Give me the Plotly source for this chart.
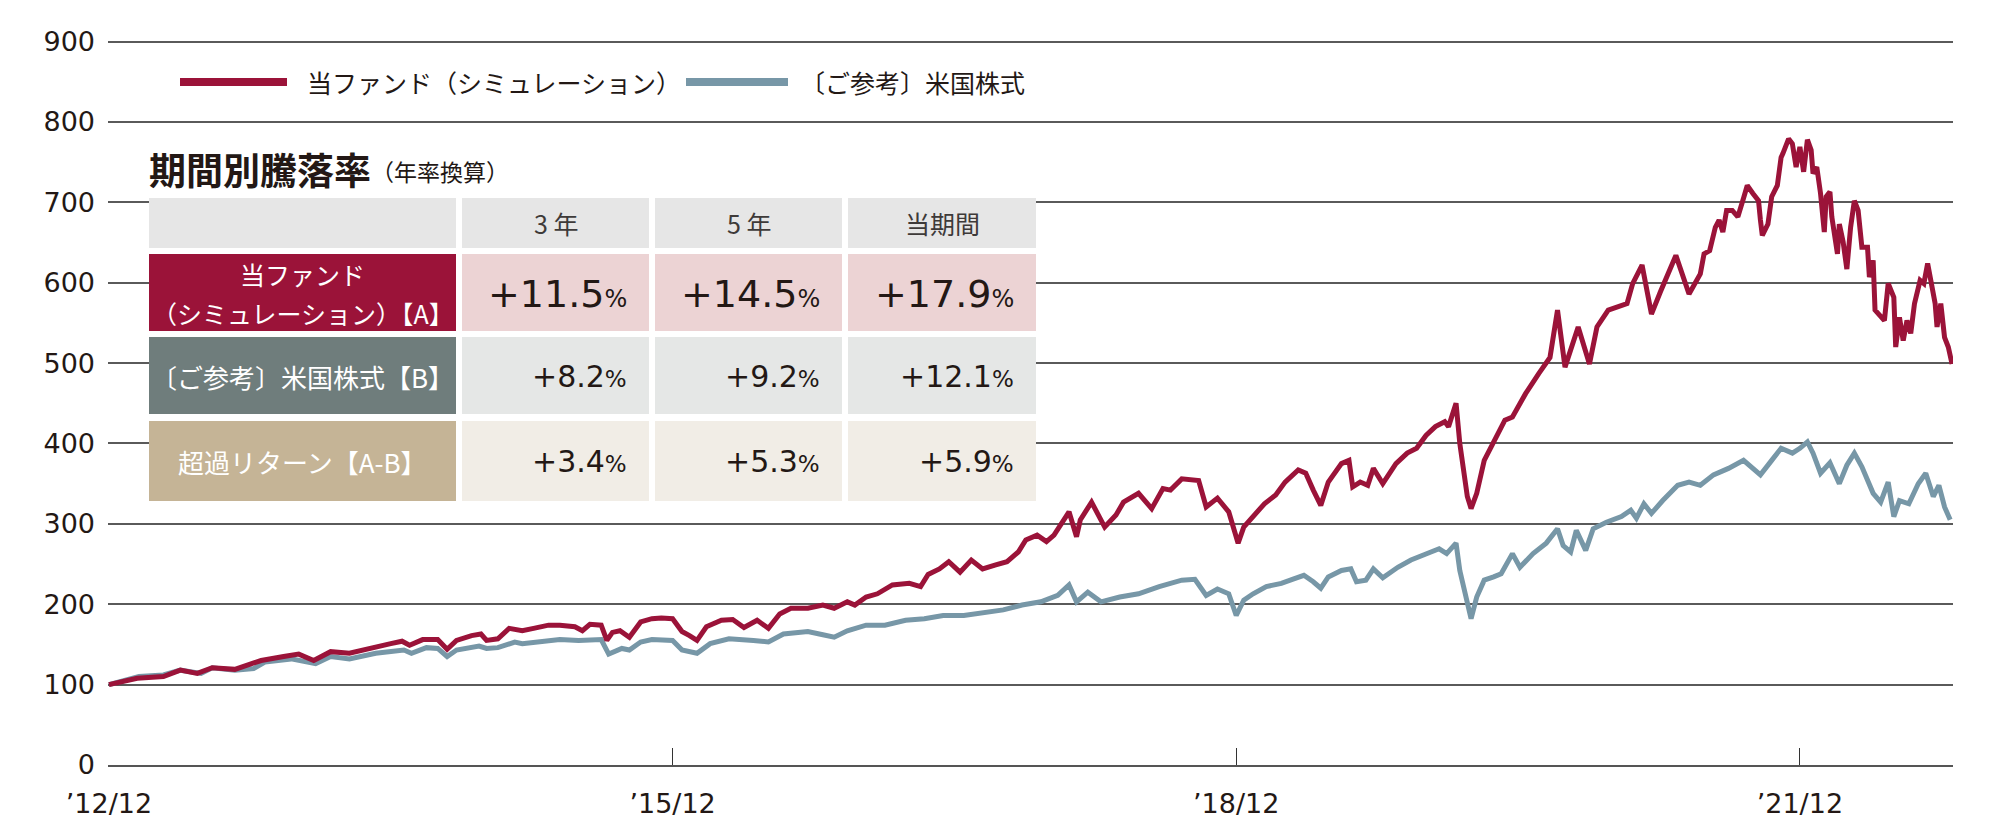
import plotly.graph_objects as go

# ---- data (x = decimal year, 2013.00 = end of Dec 2012) ----
fund_x = [
    2013.00, 2013.15, 2013.29, 2013.38, 2013.47, 2013.55, 2013.67, 2013.81, 2013.93, 2014.01,
    2014.09, 2014.18, 2014.28, 2014.38, 2014.50, 2014.56, 2014.60, 2014.67, 2014.75, 2014.80,
    2014.85, 2014.93, 2014.98, 2015.01, 2015.07, 2015.13, 2015.20, 2015.26, 2015.34, 2015.40,
    2015.48, 2015.52, 2015.56, 2015.62, 2015.65, 2015.68, 2015.72, 2015.77, 2015.83, 2015.89,
    2015.94, 2016.00, 2016.05, 2016.09, 2016.13, 2016.18, 2016.26, 2016.32, 2016.38, 2016.45,
    2016.51, 2016.57, 2016.63, 2016.72, 2016.80, 2016.86, 2016.93, 2016.97, 2017.03, 2017.09,
    2017.17, 2017.26, 2017.32, 2017.36, 2017.42, 2017.47, 2017.53, 2017.59, 2017.65, 2017.72,
    2017.78, 2017.84, 2017.88, 2017.94, 2017.99, 2018.03, 2018.07, 2018.11, 2018.15, 2018.17,
    2018.23, 2018.30, 2018.36, 2018.40, 2018.48, 2018.55, 2018.61, 2018.65, 2018.71, 2018.80,
    2018.84, 2018.90, 2018.96, 2018.99, 2019.01, 2019.04, 2019.09, 2019.15, 2019.21, 2019.26,
    2019.33, 2019.37, 2019.41, 2019.45, 2019.49, 2019.56, 2019.60, 2019.62, 2019.66, 2019.70,
    2019.73, 2019.78, 2019.85, 2019.91, 2019.96, 2020.01, 2020.06, 2020.11, 2020.13, 2020.17,
    2020.19, 2020.23, 2020.25, 2020.28, 2020.32, 2020.38, 2020.43, 2020.47, 2020.54, 2020.61,
    2020.67, 2020.71, 2020.75, 2020.82, 2020.88, 2020.92, 2020.98, 2021.08, 2021.11, 2021.16,
    2021.21, 2021.26, 2021.34, 2021.41, 2021.47, 2021.49, 2021.52, 2021.55, 2021.57, 2021.59,
    2021.61, 2021.64, 2021.67, 2021.70, 2021.72, 2021.75, 2021.78, 2021.79, 2021.80, 2021.83,
    2021.85, 2021.88, 2021.90, 2021.91, 2021.94, 2021.96, 2021.98, 2022.00, 2022.02, 2022.04,
    2022.06, 2022.07, 2022.09, 2022.11, 2022.13, 2022.14, 2022.16, 2022.17, 2022.20, 2022.21,
    2022.23, 2022.25, 2022.27, 2022.29, 2022.31, 2022.33, 2022.36, 2022.37, 2022.39, 2022.40,
    2022.43, 2022.45, 2022.47, 2022.50, 2022.51, 2022.53, 2022.55, 2022.57, 2022.59, 2022.61,
    2022.64, 2022.66, 2022.68, 2022.70, 2022.72, 2022.73, 2022.75, 2022.77, 2022.79, 2022.81,
]
fund_y = [
    100, 108, 110, 118, 114, 121, 119, 130, 135, 138,
    130, 141, 139, 145, 151, 154, 149, 156, 156, 144,
    155, 161, 163, 155, 157, 170, 167, 170, 174, 174,
    172, 167, 175, 174, 155, 165, 167, 159, 178, 182,
    183, 182, 166, 161, 155, 172, 180, 181, 171, 180,
    170, 188, 195, 195, 199, 195, 203, 199, 209, 213,
    224, 226, 222, 237, 244, 253, 240, 255, 244, 249,
    253, 265, 280, 286, 278, 286, 302, 315, 284, 305,
    327, 296, 311, 327, 338, 319, 344, 342, 356, 354,
    321, 332, 315, 290, 276, 296, 309, 325, 336, 352,
    367, 363, 342, 323, 352, 375, 379, 346, 352, 348,
    369, 350, 375, 388, 394, 410, 421, 427, 421, 450,
    400, 334, 319, 338, 379, 408, 429, 433, 462, 487,
    507, 566, 495, 545, 499, 545, 566, 574, 599, 622,
    561, 590, 634, 586, 611, 636, 640, 669, 678, 663,
    690, 690, 682, 705, 721, 711, 702, 678, 659, 673,
    707, 721, 756, 761, 779, 773, 744, 769, 738, 778,
    765, 736, 744, 711, 663, 707, 713, 682, 636, 673,
    651, 617, 669, 702, 690, 644, 644, 607, 628, 566,
    557, 553, 599, 582, 520, 557, 528, 553, 537, 574,
    603, 599, 624, 599, 574, 545, 574, 532, 520, 499,
]

us_x = [
    2013.00, 2013.16, 2013.29, 2013.38, 2013.49, 2013.55, 2013.67, 2013.77, 2013.83, 2013.97,
    2014.10, 2014.18, 2014.28, 2014.42, 2014.57, 2014.61, 2014.69, 2014.75, 2014.80, 2014.85,
    2014.97, 2015.01, 2015.07, 2015.16, 2015.20, 2015.30, 2015.40, 2015.50, 2015.56, 2015.62,
    2015.66, 2015.73, 2015.77, 2015.83, 2015.89, 2015.95, 2016.00, 2016.05, 2016.13, 2016.20,
    2016.30, 2016.43, 2016.51, 2016.59, 2016.72, 2016.80, 2016.86, 2016.93, 2017.03, 2017.13,
    2017.24, 2017.34, 2017.44, 2017.55, 2017.65, 2017.76, 2017.86, 2017.96, 2018.05, 2018.11,
    2018.15, 2018.21, 2018.28, 2018.38, 2018.48, 2018.59, 2018.71, 2018.78, 2018.84, 2018.90,
    2018.96, 2019.00, 2019.04, 2019.09, 2019.16, 2019.24, 2019.31, 2019.36, 2019.41, 2019.45,
    2019.49, 2019.56, 2019.61, 2019.64, 2019.69, 2019.73, 2019.78, 2019.86, 2019.93, 2020.01,
    2020.08, 2020.12, 2020.17, 2020.19, 2020.22, 2020.25, 2020.28, 2020.32, 2020.37, 2020.41,
    2020.47, 2020.51, 2020.58, 2020.65, 2020.71, 2020.74, 2020.78, 2020.81, 2020.86, 2020.90,
    2020.97, 2021.05, 2021.10, 2021.13, 2021.17, 2021.21, 2021.27, 2021.35, 2021.41, 2021.47,
    2021.54, 2021.62, 2021.70, 2021.79, 2021.85, 2021.90, 2021.96, 2022.00, 2022.04, 2022.07,
    2022.11, 2022.16, 2022.21, 2022.25, 2022.29, 2022.33, 2022.39, 2022.43, 2022.47, 2022.50,
    2022.53, 2022.58, 2022.63, 2022.67, 2022.71, 2022.74, 2022.77, 2022.80,
]
us_y = [
    100, 110, 112, 118, 114, 121, 118, 120, 128, 132,
    126, 135, 132, 139, 143, 139, 146, 145, 135, 143,
    148, 145, 146, 153, 151, 153, 156, 155, 155, 156,
    138, 145, 143, 153, 156, 155, 155, 143, 139, 151,
    157, 155, 153, 163, 166, 162, 159, 167, 174, 174,
    180, 182, 186, 186, 189, 193, 199, 203, 211, 224,
    203, 215, 203, 209, 213, 222, 230, 231, 211, 219,
    213, 186, 205, 213, 222, 226, 232, 236, 228, 220,
    234, 242, 244, 228, 230, 244, 233, 246, 255, 263,
    269, 263, 276, 242, 213, 182, 209, 230, 234, 238,
    263, 246, 263, 276, 294, 273, 265, 292, 267, 294,
    302, 309, 317, 307, 325, 313, 329, 348, 352, 348,
    361, 369, 379, 361, 379, 394, 388, 394, 402, 388,
    363, 376, 350, 373, 388, 371, 338, 327, 352, 309,
    329, 325, 350, 363, 334, 348, 321, 305,
]

tick_vals = [2013.0, 2016.0, 2019.0, 2022.0]
tick_text = ["’12/12", "’15/12", "’18/12", "’21/12"]

series_names = ["当ファンド（シミュレーション）", "〔ご参考〕米国株式"]

table_header = ["3 年", "5 年", "当期間"]
row_labels = [["当ファンド", "（シミュレーション）【A】"], ["〔ご参考〕米国株式【B】"], ["超過リターン【A-B】"]]
row_values = [
    ["+11.5", "+14.5", "+17.9"],
    ["+8.2", "+9.2", "+12.1"],
    ["+3.4", "+5.3", "+5.9"],
]

# ---- styling ----
RED = "#9b1339"
BLUE = "#7797a7"
INK = "#231815"
JP = "Noto Sans CJK JP"
NUM = "DejaVu Sans"

label_bg = [RED, "#6f7d7c", "#c5b496"]
value_bg = ["#ecd3d4", "#e5e7e6", "#f1ede6"]
header_bg = "#e6e6e6"

# the page body keeps its default 8px margin, so the figure is a little smaller than the window
OFF = 8
W, H = 1976, 816
ML, MR, MT, MB = 100, 31, 32, 59
PW = W - ML - MR
PH = H - MT - MB


def px(x):
    # page pixel -> paper fraction
    return (x - OFF - ML) / PW


def py(y):
    return (H - MB - (y - OFF)) / PH


fig = go.Figure()

fig.add_trace(go.Scatter(x=us_x, y=us_y, mode="lines", name=series_names[1],
                         line=dict(color=BLUE, width=5), showlegend=False))
fig.add_trace(go.Scatter(x=fund_x, y=fund_y, mode="lines", name=series_names[0],
                         line=dict(color=RED, width=5), showlegend=False))

shapes = []
annotations = []

# legend
for (x0, x1, tx), color, name in zip([(180, 287, 305), (686, 788, 798)], [RED, BLUE], series_names):
    shapes.append(dict(type="line", xref="paper", yref="paper", x0=px(x0), x1=px(x1),
                       y0=py(82), y1=py(82), line=dict(color=color, width=8), layer="above"))
    annotations.append(dict(xref="paper", yref="paper", x=px(tx), y=py(82), text=name,
                            xanchor="left", yanchor="middle", showarrow=False,
                            font=dict(family=JP, size=25, color=INK)))

# table title
annotations.append(dict(xref="paper", yref="paper", x=px(147), y=py(169), text="<b>期間別騰落率</b>",
                        xanchor="left", yanchor="middle", showarrow=False,
                        font=dict(family=JP, size=37, color=INK)))
annotations.append(dict(xref="paper", yref="paper", x=px(369), y=py(171), text="（年率換算）",
                        xanchor="left", yanchor="middle", showarrow=False,
                        font=dict(family=JP, size=23, color=INK)))

cols = [(149, 456), (462, 649), (655, 842), (848, 1036)]
rows = [(198, 248), (254, 331), (337, 414), (421, 501)]

# white backing so gridlines do not show through the gaps
shapes.append(dict(type="rect", xref="paper", yref="paper", x0=px(cols[0][0]), x1=px(cols[-1][1]),
                   y0=py(rows[-1][1]), y1=py(rows[0][0]), fillcolor="white", line_width=0, layer="above"))


def cell(c, r, color):
    shapes.append(dict(type="rect", xref="paper", yref="paper",
                       x0=px(cols[c][0]), x1=px(cols[c][1]), y0=py(rows[r][1]), y1=py(rows[r][0]),
                       fillcolor=color, line_width=0, layer="above"))


for c in range(4):
    cell(c, 0, header_bg)
for c, h in enumerate(table_header):
    xc = (cols[c + 1][0] + cols[c + 1][1]) / 2
    annotations.append(dict(xref="paper", yref="paper", x=px(xc), y=py(223), text=h,
                            xanchor="center", yanchor="middle", showarrow=False,
                            font=dict(family=JP, size=25, color="#3e3a39")))

for r in range(3):
    cell(0, r + 1, label_bg[r])
    for c in range(3):
        cell(c + 1, r + 1, value_bg[r])

    xc = (cols[0][0] + cols[0][1]) / 2
    yc = (rows[r + 1][0] + rows[r + 1][1]) / 2
    lines = row_labels[r]
    if len(lines) == 2:
        ys = [yc - 19, yc + 20]
    else:
        ys = [yc + 1]
    for txt, yy in zip(lines, ys):
        annotations.append(dict(xref="paper", yref="paper", x=px(xc), y=py(yy), text=txt,
                                xanchor="center", yanchor="middle", showarrow=False,
                                font=dict(family=JP, size=26 if len(lines) == 1 else 25, color="white")))

    big = 38 if r == 0 else 30
    small = 24 if r == 0 else 23
    for c, v in enumerate(row_values[r]):
        annotations.append(dict(xref="paper", yref="paper", x=px(cols[c + 1][1] - 20), y=py(yc + 1),
                                text=f"{v}<span style='font-size:{small}px'>%</span>",
                                xanchor="right", yanchor="middle", showarrow=False,
                                font=dict(family=NUM, size=big, color=INK)))

fig.update_layout(
    width=W, height=H,
    margin=dict(l=ML, r=MR, t=MT, b=MB),
    paper_bgcolor="white", plot_bgcolor="white",
    showlegend=False,
    shapes=shapes, annotations=annotations,
    font=dict(family=NUM, color=INK),
    xaxis=dict(range=[2012.995, 2022.815], tickvals=tick_vals, ticktext=tick_text, automargin=False,
               showgrid=False, zeroline=False, showline=True, linecolor="#555555", linewidth=2,
               ticks="inside", ticklen=17, tickwidth=1.3, tickcolor="#333333",
               ticklabelstandoff=14, tickfont=dict(family=NUM, size=27, color=INK)),
    yaxis=dict(range=[0, 902], tickvals=list(range(0, 1000, 100)), automargin=False,
               showgrid=True, gridcolor="#5a5a5a", gridwidth=1.5, zeroline=False, showline=False,
               ticks="", ticklabelstandoff=12, tickfont=dict(family=NUM, size=27, color=INK)),
)

fig.write_html("out.html")
